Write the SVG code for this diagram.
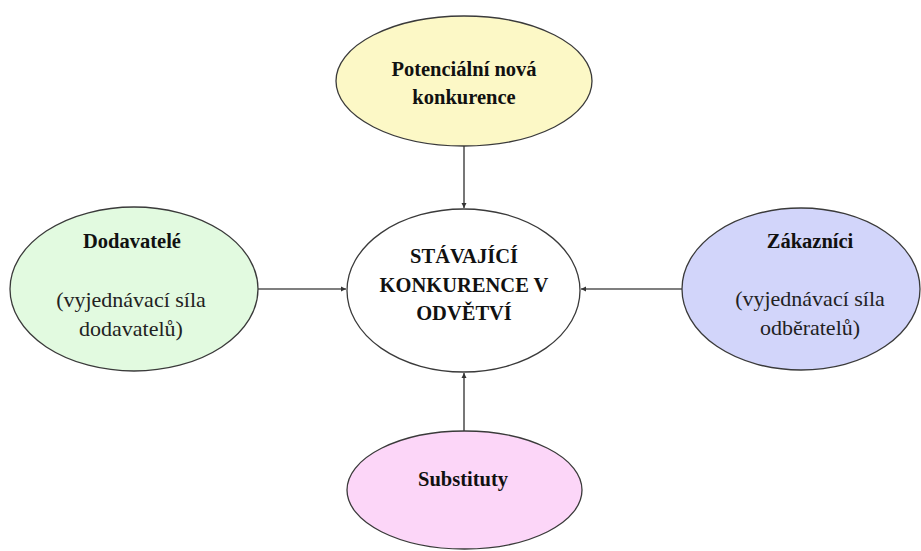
<svg xmlns="http://www.w3.org/2000/svg" width="921" height="551" viewBox="0 0 921 551">
  <defs>
    <marker id="arrow" markerWidth="6" markerHeight="6" refX="5" refY="3" orient="auto" markerUnits="userSpaceOnUse">
      <path d="M0,0.5 L5,3 L0,5.5 Z" fill="#333"/>
    </marker>
  </defs>
  <style>
    .shape { stroke: #3a3a3a; stroke-width: 1.3; }
    .bold { font-family: "Liberation Serif", "Times New Roman", serif; font-weight: bold; font-size: 20.5px; fill: #111; text-anchor: middle; }
    .reg { font-family: "Liberation Serif", "Times New Roman", serif; font-size: 22px; fill: #222; text-anchor: middle; }
    .conn { stroke: #555; stroke-width: 1.6; fill: none; marker-end: url(#arrow); }
  </style>
  <rect width="921" height="551" fill="#ffffff"/>

  <g id="connectors">
    <line class="conn" x1="464" y1="146" x2="464" y2="208"/>
    <line class="conn" x1="258" y1="289" x2="346" y2="289"/>
    <line class="conn" x1="682" y1="289" x2="581" y2="289"/>
    <line class="conn" x1="464" y1="431" x2="464" y2="373"/>
  </g>

  <g id="potential">
    <ellipse class="shape" cx="464" cy="81" rx="128" ry="65" fill="#FCF8C6"/>
    <text class="bold" x="464" y="76">Potenciální nová</text>
    <text class="bold" x="464" y="104">konkurence</text>
  </g>

  <g id="rivalry">
    <ellipse class="shape" cx="463.5" cy="290.5" rx="116.5" ry="81.5" fill="#ffffff"/>
    <text class="bold" x="464" y="263">STÁVAJÍCÍ</text>
    <text class="bold" x="464" y="292">KONKURENCE V</text>
    <text class="bold" x="464" y="320">ODVĚTVÍ</text>
  </g>

  <g id="suppliers">
    <ellipse class="shape" cx="134" cy="289" rx="124" ry="82" fill="#E2FAE0"/>
    <text class="bold" x="132" y="248">Dodavatelé</text>
    <text class="reg" x="131" y="307">(vyjednávací síla</text>
    <text class="reg" x="131" y="336">dodavatelů)</text>
  </g>

  <g id="customers">
    <ellipse class="shape" cx="801" cy="289" rx="119" ry="81" fill="#D2D5FA"/>
    <text class="bold" x="810" y="248">Zákazníci</text>
    <text class="reg" x="810" y="306">(vyjednávací síla</text>
    <text class="reg" x="810" y="335">odběratelů)</text>
  </g>

  <g id="substitutes">
    <ellipse class="shape" cx="464.5" cy="490" rx="117.5" ry="59" fill="#FCD6F8"/>
    <text class="bold" x="463" y="486">Substituty</text>
  </g>
</svg>
